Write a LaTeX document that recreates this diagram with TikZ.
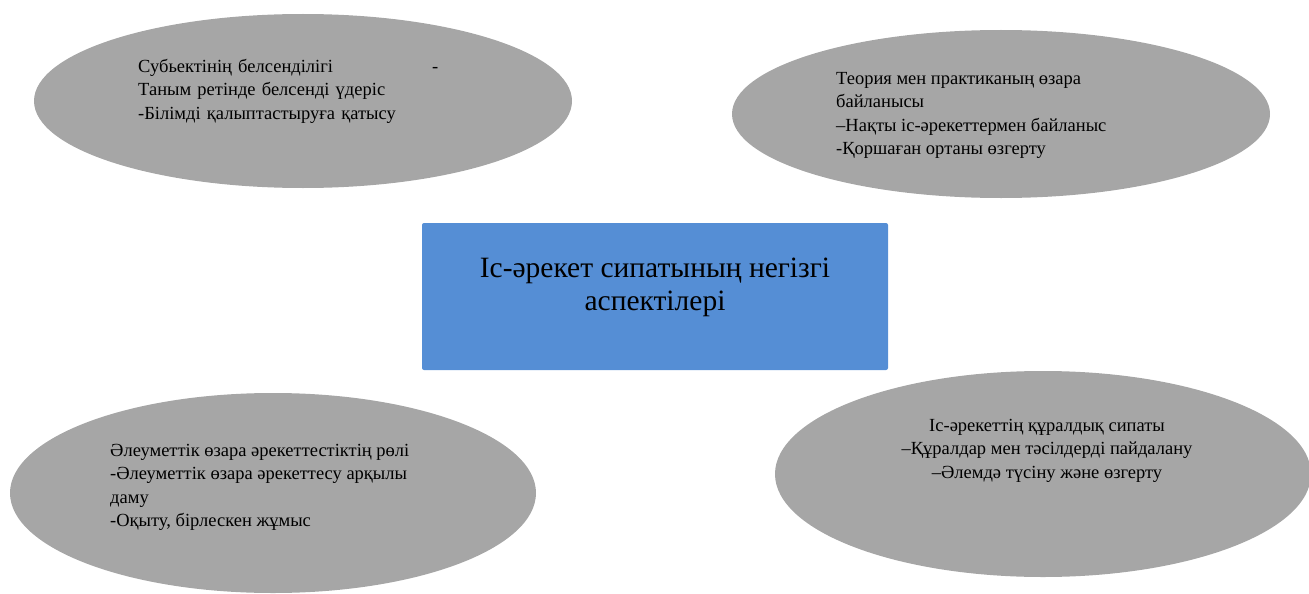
\documentclass[tikz,border=0pt]{standalone}
\usepackage{fontspec}
\setmainfont{Liberation Serif}
\usetikzlibrary{shapes.geometric}

\definecolor{ovalgray}{HTML}{A6A6A6}
\definecolor{coreblue}{HTML}{558ED5}

\begin{document}
\begin{tikzpicture}[x=1pt,y=-1pt,
    aspect/.style={ellipse,fill=ovalgray,inner sep=0pt},
    note/.style={inner sep=0pt,align=left,anchor=north west,
      font=\fontsize{18.5}{23.5}\selectfont},
    core/.style={rectangle,fill=coreblue,rounded corners=2pt,
      minimum width=466pt,minimum height=147pt}]

  \useasboundingbox (0,0) rectangle (1309,594);

  \node[core] (core) at (655,296.5) {};
    \node[align=center,font=\fontsize{29.5}{33}\selectfont] (core_t) at (655,287)
      {Іс-әрекет сипатының негізгі\\аспектілері};

  \node[aspect,minimum width=538pt,minimum height=174pt] (subj) at (303,101) {};
    \node[note,text width=300pt] (subj_t) at (138,59)
      {Субьектінің белсенділігі\hfill-\\Таным ретінде белсенді үдеріс\\-Білімді қалыптастыруға қатысу};

  \node[aspect,minimum width=538pt,minimum height=168pt] (theory) at (1001,114) {};
    \node[note] (theory_t) at (836,72)
      {Теория мен практиканың өзара\\байланысы\\–Нақты іс-әрекеттермен байланыс\\-Қоршаған ортаны өзгерту};

  \node[aspect,minimum width=526pt,minimum height=200pt] (social) at (273,493) {};
    \node[note] (social_t) at (110,444)
      {Әлеуметтік өзара әрекеттестіктің рөлі\\-Әлеуметтік өзара әрекеттесу арқылы\\даму\\-Оқыту, бірлескен жұмыс};

  \node[aspect,minimum width=536pt,minimum height=206pt] (tool) at (1043,474) {};
    \node[note,align=center,anchor=north] (tool_t) at (1047,419)
      {Іс-әрекеттің құралдық сипаты\\–Құралдар мен тәсілдерді пайдалану\\–Әлемдә түсіну және өзгерту};

\end{tikzpicture}
\end{document}
